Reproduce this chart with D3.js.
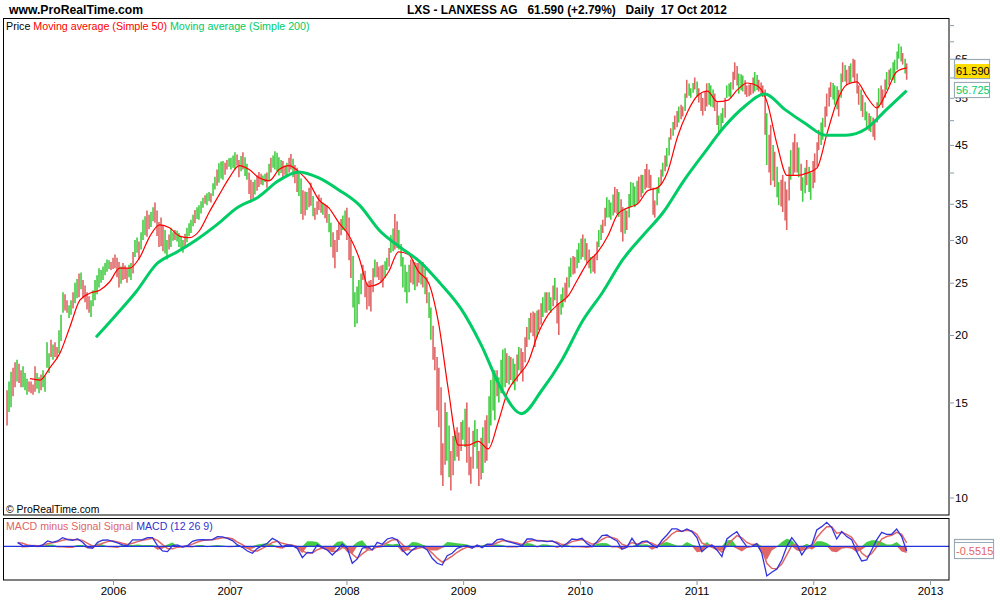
<!DOCTYPE html>
<html>
<head>
<meta charset="utf-8">
<script src="https://cdn.jsdelivr.net/npm/d3@7"></script>
<style>
  html, body { margin: 0; padding: 0; background: #fff; }
  svg { display: block; font-family: "Liberation Sans", Arial, sans-serif; }
</style>
</head>
<body>
<svg id="chart" width="1000" height="600"></svg>
<script>
// price bars, sampled along the chart
const barHigh = [15.8,17.1,17.8,17.7,17.5,16.6,16.4,17.5,16.7,17.2,19.4,19.6,19.4,20.4,
  24,23.2,23.2,25,26,25.3,24,23.2,25.3,26.6,26.8,27.6,27.3,28.2,27.3,27.2,26.6,27.2,30,29.8,32.7,34,33.8,35.2,32.4,32,30,31.6,31.3,30.9,30,31.6,32.7,34.1,34.8,35.9,36.6,36.6,39.3,41.6,42,42.2,42.6,43.6,42.2,
  43.6,41.5,38.8,38.8,40.1,39.5,40,42.6,43.8,42.7,42,41.7,43.3,41.3,40.1,37.1,36.8,38.3,34.4,36.4,35.2,34.8,32.3,30,32.3,33.3,34.4,30,24,25.3,27,25,25.3,27.6,26.8,27,27.8,30.6,33.5,31.3,27.9,26.2,27.6,27.3,27.2,27.3,25.6,22.5,19,17.4,12.6,14.4,12.2,13.3,13.2,13.9,15,
  11.9,13.9,12.2,13.5,14.2,16.5,17.2,16.7,18.8,18.5,18.2,17.7,19,18.6,20.7,22,22,22.3,23.5,24,23.5,25.5,22.9,24.5,25.6,27.8,27.9,29.6,30.7,29.6,27.9,28.2,31.3,32.7,36,35.2,37.6,36.8,34.5,34,38.4,37.7,39.3,39.6,41.5,39.6,35.5,39.2,41.7,44.4,48.3,51,53,53,59.4,57.3,60,57.3,55,
  58.5,58,56,51,52.7,58,58.8,64,61,60.5,58,58.5,61.4,59.4,58,51.5,49,43.7,38.4,39.6,37.2,44,47.2,44.5,39.2,42.2,40,43.4,48,50.5,56,58.8,58,56.9,64,62,63.7,64.7,58,55.7,51.9,50.9,50.2,57.3,57,61.4,62.4,64.7,69.3,66.6,63.7];
const barLow = [13.6,14.7,16,16.3,16,15.5,15.6,15.7,15.6,16,17.4,18.2,18.2,18.5,
  22,22,21.8,22.9,23.5,23.4,22.3,21.6,23.2,24.5,25.3,26.2,26.4,26.6,24.5,25.3,25,25.3,27.9,27.6,30,30.4,31.7,32.3,29.1,28.6,27.6,29.1,30,29.1,28.4,29.7,30.9,32.2,32.7,34.4,34.8,35.2,37.2,38.3,38.8,40.5,40.5,40.5,39.2,
  40.5,38.8,35.2,36.4,37.6,37.9,37.5,40,40.5,39.5,39,39.2,40.5,38.2,36.2,32.7,34.1,34.7,32.7,34.1,33.4,32.3,29.1,26.6,30,31.3,30,25.5,20.7,22.8,25.3,22.3,22.1,25.6,25.3,24.5,26.4,28.4,28.8,28.8,24.5,22.9,25,24.2,25,24.5,22.9,19.6,17.2,13.5,10.5,11.7,10.3,11.7,11.7,12.8,11.6,
  10.6,12.4,10.5,11.1,11.7,13.6,13.9,15,15.8,16.3,16.5,15.8,17.2,16.4,19,20.2,19,20.4,21.6,22,22,23.2,20,22.5,23.5,25.6,26,27.2,27.9,27.2,26,26,29.1,30.9,33,32.7,33.7,33.1,29.8,31.3,34.5,34.5,35.3,36.6,37.5,37.2,33,36.6,39.3,41,46,48,49.5,50.8,55,55,57,53.9,51,
  53,53,52,47.5,49.4,55,55,59.4,56,56.5,55.2,55.7,56.5,56.5,55.2,41.3,37.9,37.6,34.8,33.8,31.3,38.8,40,39.2,35.3,37.9,35.6,38.3,44,46,50.8,55.2,53.4,50.8,58.8,58,58.8,58.8,53.4,50.7,48.5,47.5,45.9,52.6,52.7,56.9,59.4,58.6,65,63.4,59.4];
// r = falling bar, g = rising bar
const barColour = "rgrrggrrgggrrg" +
  "grggrrrggggg" + "rrrrrggrgrgrrrggrgggg" + "rggg" + "rgggrggrrgrg" +
  "rgrrggrgrrgrgrrrgrgrrgrrggrrrgrrggrggg" + "rgrrrgrrrgrgrgrrgrgrggggrrggrrrrrgrgg" +
  "rgrgrgrrgrgrggrgrrggrgrrrgggrrgrrgrrrrgrggggrggrrgrrgrrg" +
  "rrgrggrgrrgrrgrrrgrrrggrgrggggrrggrgrrrggggrgggrrr";

// the bars lying between those above
const midHigh = [16.4,17.4,18,17.2,17,16.4,16.2,17,16.9,16.8,18.5,19.2,19,21.8,
  23.8,22.7,24,25.4,26.1,24.7,23.6,24.2,25.8,26.4,27.2,27.5,27.8,27.8,26.8,26.9,27,28.5,30.3,31,33.2,33.4,34.5,34,33,31.3,30.7,31,31.2,30.4,30.8,32.2,33.4,34.5,35.4,36.3,36.8,38.2,40.5,41.9,41.7,42.5,43,43.2,42.9,
  42.7,40,38.4,39.5,39.8,39.8,41.5,43,43.5,42.2,41.2,42.6,42.4,40.8,39,36.9,37.5,36.2,35.4,35.9,35,33.5,31,31.3,32.8,34,33,28,24.6,26,26.3,25.2,26.6,27.3,26.9,27.4,29,31.5,32.5,29.5,27,27,27.5,27.2,27.2,26.5,24,20.8,18.2,16,15,13.6,13,13.5,13.8,14.6,
  13.5,13.3,13.4,12.9,13.9,15.4,17,17.2,18,18.9,18.3,18.1,18.4,18.9,19.8,21.5,22.1,22.2,22.9,24,24,24.7,24.5,23.8,25,26.8,28,28.8,30.2,30.2,28.8,28,29.8,32,34.4,35.6,36.4,37.3,35.7,34.3,36.5,38.3,38.6,39.6,40.6,40.5,37.5,37.5,40.5,43,46.5,49.6,52,53.4,56,58.5,58.6,59,56,
  56.5,58.6,57,54,51.5,55,58.5,61.5,63,60.8,59.3,58.2,60,60.6,58.7,57,47,45,41,38.8,38.5,41,45.5,45.5,41.5,40.8,41,42,45.5,49.5,53,57.5,58.6,57.8,61,63.3,63,65,61,57,54,51.5,50.6,54,58,59.5,62,64,67,68.5,65];
const midLow = [14.4,15.4,16.4,16,15.8,15.7,15.5,15.9,15.8,15.7,17,18,18.1,19.5,
  22.2,21.5,22.4,23.4,24.3,23,22,22.6,23.8,25,25.8,26.5,26.5,25.6,24.9,25.4,25.6,26,28.4,28.8,30.6,31.4,32.5,30.5,29.2,28.3,28.8,29.9,29.8,29,29.2,30.5,31.8,32.8,33.6,35,35.4,36.2,37.8,39,39.6,41,40.8,41.2,40.2,
  39.4,36.5,35.8,37,38,38.4,38.6,40.8,40.2,39.9,39.6,40,39.2,36.8,33.5,33.3,34.5,33.2,33.4,33.7,32.9,31,27.8,28.5,30.6,31.2,27.5,22.5,21,23.8,23.5,22.6,24,25.6,25,25.5,26.8,28.6,29,26.8,24,24,24.8,24.6,24.8,23.8,21.5,18,14.5,11,11.5,10.9,11,11.9,12.2,12.4,
  11,11.3,11.3,10.8,11.6,12.6,14.5,15.4,15.6,16,16.2,16.2,16.4,17,17.8,19.6,19.9,19.8,20.9,22,22.2,22.6,21,21.8,23,24.5,25.9,26.6,27.6,27.5,26.6,26.2,27.5,30,31.8,33,33.3,33.5,31,30.8,33,34.8,35,36,37.2,37.4,33.4,34.8,38,40.2,43,46.8,48.5,50.2,52,55.5,56.2,55.3,52,
  52,53.4,52.8,49,48,50.5,55.3,57,58,56.8,55.8,55.4,56,56.9,55.8,47,40,38.6,36,34.6,32.6,35.5,39.5,40,37,36.6,36.8,37.4,41,45,48.5,53,54.6,52.4,55,59,58.6,60,56,52,50,47.8,46.6,49.5,53.4,55,58,59.4,62,64.2,61];
const midColour = "grgrgrrgrgggrg" +
  "rgrggrrgggggrrgrgrgggrgrrgrgggrggggrggrgrggrgg" + "rrrrgggg" + "grrgrgrrgrrrgrrrgrgggrrrrrgrgrgggrrgggrrrrgrrrgrrgr" +
  "rggrggggrrrgrgrggrrgrgrgggrrrgrggrrggggrrrrgrrggrrggggrrgg" +
  "rgrgrrgrrrgrrrggrrrrrrggrrgrrggggrrrggrrrrrrggggrrrgrgrrg";

const ma50Values = [16.6,16.5,17.4,18.5,20.7,23.2,23.9,24.2,25.1,26.6,26.6,27.8,30.4,32,31.6,30.5,30.3,31.2,33.8,36.4,39.1,41.2,40.5,39.1,38.6,40.5,41.2,40.1,38.3,35.6,34.4,32.3,30.6,27.9,24.6,24.9,26.2,28.5,28.2,26.2,25,21.1,15.8,12.5,12.5,12.7,12.3,13.8,15.8,16.8,17.8,20.1,21.8,22.8,23.6,25.4,27.3,28.5,30.5,33.5,34.4,35,37,37.5,40.1,46.6,51.8,55.5,56.6,54.1,54.4,56.9,58.6,57.9,53.9,45,39.5,39.5,39.9,40.8,47.2,54.1,58.2,58.9,55.3,52.7,56.4,61.5,62.5];
const ma200Values = [19.8,21.8,24.1,27.1,28.5,30.1,32.1,34.5,36,38.6,40.1,39.1,37.1,34.8,31.2,29.1,27.3,24.9,22.4,19.2,15.9,14.3,15.8,18,21.2,24,27.6,30.6,33.8,38.6,43.4,48.6,53,55.9,52.3,49.3,46.9,46.9,48.2,52.3,56.7];

const macdValues = [.43,.08,.04,.08,0,.16,.63,.47,.63,1.02,.78,.71,.86,.47,-.12,-.24,.47,.71,.75,.59,.39,.16,.08,.75,.75,.78,1.02,1.02,.08,-.55,-.63,.08,.16,-.08,.08,.59,.75,.78,.75,.78,1.14,1.1,.94,.67,.16,-.12,-.55,-.82,-.24,.08,.35,.94,.63,-.04,.16,.08,-.24,-1.33,-.71,-.78,.16,-.16,-.43,-1.02,-.43,.24,-.24,-2,-1.49,-.24,-.04,-.43,.47,.24,.86,1.02,.75,-.43,-1.02,-.43,-.04,-.04,-.43,-1.41,-2,-2.2,-1.1,-.82,-.24,-.04,.08,-.24,.16,
  -.16,.24,.24,.78,.86,.59,.43,.27,.08,.86,.86,.63,.63,.55,.63,.35,-.08,.35,.86,.78,.94,.31,-.04,.55,1.25,1.33,.94,.63,-.35,-.12,.94,.08,.55,.63,.16,-.16,.71,1.33,2.04,2.04,1.73,2.04,1.73,1.02,-.63,-.12,.16,-.43,-1.22,.86,1.33,1.73,.75,-.04,0,.31,-.82,-3.49,-3.06,-2.67,-1.61,-.04,1.02,.24,-1.02,-.12,.16,1.92,2.31,2.82,2.2,.86,1.73,1.14,.78,-.63,-1.73,-1.61,-.43,.75,1.65,1.41,1.41,2.04,1.14,-.55];
const signalValues = [.45,.35,.15,.08,.06,.1,.3,.42,.52,.7,.82,.78,.8,.7,.35,.05,.1,.35,.55,.65,.52,.35,.2,.35,.55,.7,.82,.95,.7,.2,-.25,-.3,-.1,-.02,.04,.25,.5,.68,.75,.76,.88,1,1,.88,.5,.2,-.2,-.55,-.55,-.25,.05,.45,.58,.35,.2,.12,-.05,-.55,-.8,-.8,-.4,-.2,-.3,-.6,-.55,-.15,-.2,-.9,-1.4,-.9,-.45,-.4,-.05,.12,.42,.75,.8,.25,-.35,-.45,-.25,-.12,-.25,-.8,-1.4,-1.85,-1.55,-1.15,-.7,-.35,-.1,-.15,0,
  -.05,.05,.12,.42,.65,.65,.52,.38,.22,.5,.68,.68,.65,.6,.6,.48,.2,.25,.55,.68,.8,.55,.25,.38,.8,1.1,1.05,.85,.25,.05,.45,.28,.4,.52,.35,.08,.38,.85,1.45,1.8,1.78,1.9,1.8,1.4,.4,.1,.12,-.15,-.7,.05,.7,1.25,1,.45,.2,.25,-.3,-2,-2.6,-2.65,-2.1,-1,.1,.2,-.42,-.3,-.05,1,1.7,2.3,2.3,1.55,1.65,1.4,1.05,.2,-.8,-1.25,-.85,-.05,.85,1.15,1.3,1.65,1.4,.4];
const histValues = [0,-.15,-.1,-.05,-.1,-.05,.2,.2,-.15,-.15,-.2,-.2,.15,.15,-.25,-.2,.35,.2,-.1,-.15,-.2,.15,.2,.15,.2,.15,.15,.15,-.4,-.3,.2,.45,-.15,-.15,-.1,-.15,.15,.15,-.1,.1,.15,.1,-.1,-.1,.15,-.15,-.3,-.3,.2,.3,.35,.2,-.2,-.3,.15,.2,-.3,-.8,.6,.6,.5,-.3,-.5,-.7,.55,.6,-.7,-.9,.5,.7,-.5,.1,-.2,-.1,.3,.2,.3,-.7,-.5,.5,.45,.2,-.4,-.5,-.5,-.2,.5,.45,.35,.3,.2,-.1,.1,
  .1,.3,.2,.2,.15,-.15,-.15,-.15,.2,.4,.3,-.15,.25,.2,.1,-.2,.15,.15,-.15,-.1,-.15,-.2,-.1,.3,.4,.35,-.15,-.15,-.4,-.15,-.1,.3,.2,.25,-.4,-.15,.4,.5,.3,.1,.1,.5,.2,-.7,-.6,.5,-.2,-.5,-.5,.7,.75,-.3,-.6,-.2,-.1,.4,-.7,-1.6,-.5,-.1,.5,.9,.7,-.5,-.6,.3,-.4,.6,.6,.4,-.6,-.7,-.3,-.2,-.3,-.7,-.4,.5,.7,.7,.5,.2,.2,.5,-.6,-.8];

const yearTicks = [2006,2007,2008,2009,2010,2011,2012,2013];
const priceTicks = [75,70,65,60,55,50,45,40,35,30,25,20,15,10];
const priceLabels = [65,55,45,35,30,25,20,15,10];
const barStart = 2005.092, midStart = 2005.109, midEnd = 2012.787;
const ma50Start = 2005.289, ma200Start = 2005.854, macdStart = 2005.183;
const lastYear = 2012.80;

const red = "#e06666", green = "#44cc44";
const svg = d3.select("#chart");

const x = d3.scaleLinear().domain([2005, 2013]).range([-3.7, 930]);
const y = d3.scaleLog().domain([10, 20]).range([497.5, 335]);
const macdY = d3.scaleLinear().domain([0, 1]).range([546.3, 537.8]);

// turns a sample index into a year, for a series of n samples
const yearOf = (start, n, end = lastYear) => d3.scaleLinear().domain([0, n - 1]).range([start, end]);

svg.append("clipPath").attr("id", "mainClip").append("rect").attr("x", 4).attr("y", 19).attr("width", 945).attr("height", 496);
svg.append("clipPath").attr("id", "macdClip").append("rect").attr("x", 4).attr("y", 519).attr("width", 945).attr("height", 61);

const main = svg.append("g").attr("clip-path", "url(#mainClip)");

function drawBars(highs, lows, colours, start, end) {
  const yr = yearOf(start, highs.length, end);
  main.append("g").selectAll("line")
    .data(highs)
    .enter()
    .append("line")
    .attr("x1", (d, i) => x(yr(i)))
    .attr("x2", (d, i) => x(yr(i)))
    .attr("y1", (d) => y(d))
    .attr("y2", (d, i) => y(lows[i]))
    .attr("stroke", (d, i) => colours[i] === "r" ? red : green)
    .attr("stroke-width", 1.6);
}
drawBars(midHigh, midLow, midColour, midStart, midEnd);
drawBars(barHigh, barLow, barColour, barStart, lastYear);

function seriesLine(values, start, yScale, curve) {
  const yr = yearOf(start, values.length);
  return d3.line().curve(curve).x((d, i) => x(yr(i))).y((d) => yScale(d))(values);
}

main.append("path")
  .attr("d", seriesLine(ma50Values, ma50Start, y, d3.curveMonotoneX))
  .attr("fill", "none").attr("stroke", "#ff0000").attr("stroke-width", 1.2);
main.append("path")
  .attr("d", seriesLine(ma200Values, ma200Start, y, d3.curveMonotoneX))
  .attr("fill", "none").attr("stroke", "#00cc66").attr("stroke-width", 3);

// macd panel
const macd = svg.append("g").attr("clip-path", "url(#macdClip)");
const histYear = yearOf(macdStart, histValues.length);
const histArea = (pick) => d3.area()
  .x((d, i) => x(histYear(i)))
  .y0(macdY(0))
  .y1((d) => macdY(pick(d)))(histValues);
macd.append("path").attr("d", histArea((d) => Math.max(d, 0))).attr("fill", green);
macd.append("path").attr("d", histArea((d) => Math.min(d, 0))).attr("fill", red);
macd.append("path")
  .attr("d", seriesLine(signalValues, macdStart, macdY, d3.curveLinear))
  .attr("fill", "none").attr("stroke", red).attr("stroke-width", 1.5);
macd.append("line")
  .attr("x1", 4).attr("x2", 949).attr("y1", macdY(0)).attr("y2", macdY(0))
  .attr("stroke", "#2233dd").attr("stroke-width", 1.2);
macd.append("path")
  .attr("d", seriesLine(macdValues, macdStart, macdY, d3.curveLinear))
  .attr("fill", "none").attr("stroke", "#3333dd").attr("stroke-width", 1.3);

// panel frames
[[3.5, 18.5, 945.5, 496.5], [3.5, 518.5, 945.5, 61.5]].forEach((r) => {
  svg.append("rect").attr("x", r[0]).attr("y", r[1]).attr("width", r[2]).attr("height", r[3])
    .attr("fill", "none").attr("stroke", "#000");
});

// axes
const priceAxis = d3.axisRight(y).tickValues(priceTicks)
  .tickFormat((d) => priceLabels.includes(d) ? d : "").tickSize(5).tickPadding(1);
const priceG = svg.append("g").attr("transform", "translate(949,0)").call(priceAxis);
priceG.select(".domain").remove();
priceG.selectAll(".tick line").attr("stroke", "#8a9aa6");
priceG.selectAll(".tick text").attr("font-size", 11.5).attr("font-family", "Liberation Sans").attr("fill", "#000");

const yearAxis = d3.axisBottom(x).tickValues(yearTicks).tickFormat(d3.format("d")).tickSize(5).tickPadding(2);
const yearG = svg.append("g").attr("transform", "translate(0,580)").call(yearAxis);
yearG.select(".domain").remove();
yearG.selectAll(".tick line").attr("stroke", "#8a9aa6");
yearG.selectAll(".tick text").attr("font-size", 11.5).attr("font-family", "Liberation Sans").attr("fill", "#000");

// value tags at the right, some with a blank strip above the value
function tag(top, h, strip, w, fill, colour, text, textY) {
  svg.append("rect").attr("x", 954.5).attr("y", top + 0.5).attr("width", w).attr("height", h)
    .attr("fill", "#fff").attr("stroke", "#9aaab4").attr("stroke-width", 1.2);
  svg.append("rect").attr("x", 955).attr("y", top + 1 + strip).attr("width", w - 1).attr("height", h - 1 - strip)
    .attr("fill", fill);
  svg.append("text").attr("x", 956).attr("y", textY).attr("font-size", 11).attr("fill", colour).text(text);
}
tag(59, 19, 4, 35, "#ffdd00", "#000", "61.590", 75);
tag(82, 15, 0, 35, "#fff", "#00cc66", "56.725", 94);
tag(539, 19, 3, 39, "#fff", red, "-0.5515", 555);
svg.append("line").attr("x1", 954.5).attr("x2", 993.5).attr("y1", 542.5).attr("y2", 542.5).attr("stroke", "#9aaab4");

// titles and legends
svg.append("text").attr("x", 9).attr("y", 14).attr("font-size", 12.2).attr("font-weight", "bold").text("www.ProRealTime.com");
svg.append("text").attr("x", 407).attr("y", 14).attr("font-size", 11.9).attr("font-weight", "bold")
  .style("white-space", "pre")
  .text("LXS - LANXESS AG   61.590 (+2.79%)   Daily  17 Oct 2012");

const legend = svg.append("text").attr("x", 6).attr("y", 30).attr("font-size", 10.7);
legend.append("tspan").attr("fill", "#000").text("Price ");
legend.append("tspan").attr("fill", "#ff0000").text("Moving average (Simple 50) ");
legend.append("tspan").attr("fill", "#00cc66").text("Moving average (Simple 200)");

const macdLegend = svg.append("text").attr("x", 6).attr("y", 530).attr("font-size", 10.6);
macdLegend.append("tspan").attr("fill", red).text("MACD minus Signal Signal ");
macdLegend.append("tspan").attr("fill", "#3333cc").text("MACD (12 26 9)");

svg.append("text").attr("x", 6).attr("y", 513).attr("font-size", 10.4).text("© ProRealTime.com");
</script>
</body>
</html>
